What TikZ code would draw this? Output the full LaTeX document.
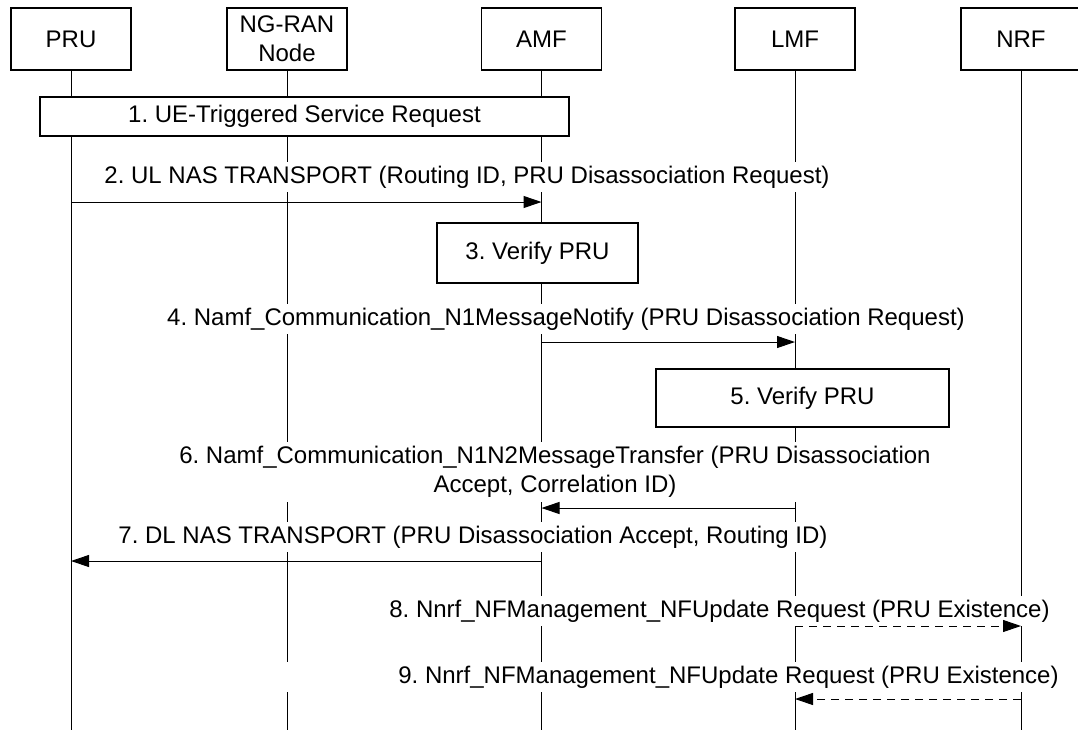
\documentclass[tikz,border=0pt]{standalone}
\usepackage{fontspec}
\setmainfont{Liberation Sans}
\usetikzlibrary{arrows.meta}
\frenchspacing

\begin{document}
\begin{tikzpicture}[x=0.5pt,y=-0.5pt,font=\fontsize{12}{14.5}\selectfont,
  ent/.style={draw,line width=0.6pt,fill=white,align=center,minimum width=60pt,minimum height=31pt},
  stepbox/.style={draw,line width=0.6pt,fill=white,inner sep=0pt},
  lbl/.style={fill=white,inner sep=2pt,align=center},
  life/.style={line width=0.5pt},
  msg/.style={line width=0.5pt,-{Triangle[length=9pt,width=6pt]}},
  rsp/.style={msg,dash pattern=on 4pt off 3pt}]
\useasboundingbox (0,0) rectangle (1078,730);
\node[ent] (pru) at (71,39) {PRU};
\node[ent] (ran) at (287,39) {NG-RAN\\Node};
\node[ent] (amf) at (541.5,39) {AMF};
\node[ent] (lmf) at (795,39) {LMF};
\node[ent] (nrf) at (1021,39) {NRF};
\coordinate (bot) at (0,730);
\foreach \n in {pru,ran,amf,lmf,nrf}
  \draw[life] (\n.south) -- (\n |- bot);
\node[stepbox,minimum width=264.5pt,minimum height=19.5pt] (s1) at (304.5,116.5) {1. UE-Triggered Service Request};
\node[stepbox,minimum width=100.5pt,minimum height=30pt] (s3) at (537.5,253) {3. Verify PRU};
\node[stepbox,minimum width=146.5pt,minimum height=29pt] (s5) at (802.5,398) {5. Verify PRU};
\node[lbl] (m2) at (467,177) {2. UL NAS TRANSPORT (Routing ID, PRU Disassociation Request)};
\node[lbl] (m4) at (566,319) {4. Namf\_Communication\_N1MessageNotify (PRU Disassociation Request)};
\node[lbl] (m6) at (555,472) {6. Namf\_Communication\_N1N2MessageTransfer (PRU Disassociation\\Accept, Correlation ID)};
\node[lbl] (m7) at (473,537) {7. DL NAS TRANSPORT (PRU Disassociation Accept, Routing ID)};
\node[lbl] (m8) at (719.5,611) {8. Nnrf\_NFManagement\_NFUpdate Request (PRU Existence)};
\node[lbl,minimum width=450pt] (m9) at (728.5,677) {9. Nnrf\_NFManagement\_NFUpdate Request (PRU Existence)};
\coordinate (r2) at (0,202);
\coordinate (r4) at (0,342);
\coordinate (r6) at (0,508);
\coordinate (r7) at (0,561);
\coordinate (r8) at (0,626);
\coordinate (r9) at (0,699);
\draw[msg] (pru |- r2) -- (amf |- r2);
\draw[msg] (amf |- r4) -- (lmf |- r4);
\draw[msg] (lmf |- r6) -- (amf |- r6);
\draw[msg] (amf |- r7) -- (pru |- r7);
\draw[rsp] (lmf |- r8) -- (nrf |- r8);
\draw[rsp] (nrf |- r9) -- (lmf |- r9);
\end{tikzpicture}
\end{document}
